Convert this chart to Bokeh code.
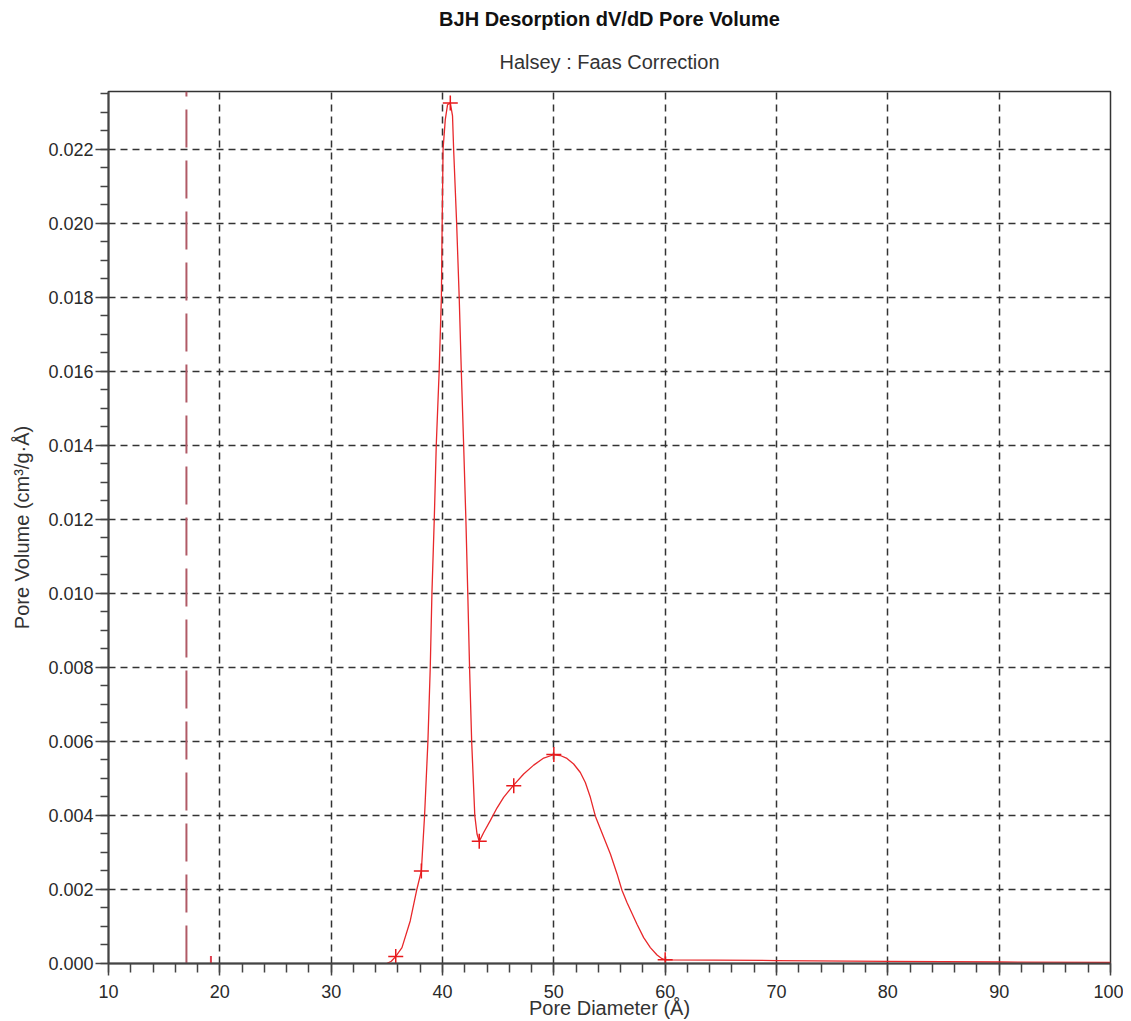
from bokeh.plotting import figure
from bokeh.models import Title, FixedTicker, PrintfTickFormatter, Range1d, ColumnDataSource
from bokeh.embed import file_html
from bokeh.resources import INLINE

# ---- data ----
title_main = "BJH Desorption dV/dD Pore Volume"
title_sub = "Halsey : Faas Correction"
x_label = "Pore Diameter (Å)"
y_label = "Pore Volume (cm³/g·Å)"

# measured points (plus markers)
marker_x = [35.8, 38.1, 40.7, 43.3, 46.4, 50.0, 60.0]
marker_y = [0.00019, 0.0025, 0.02325, 0.0033, 0.0048, 0.00565, 0.0001]

# smooth curve
curve_x = [35.0, 35.4, 35.8, 36.36, 37.1, 37.71, 38.1, 38.39, 38.69, 38.9, 39.05, 39.26,
           39.44, 39.7, 39.9, 39.97, 40.05, 40.25, 40.45, 40.7, 40.9, 41.0, 41.27, 41.5,
           41.69, 41.9, 42.1, 42.27, 42.43, 42.62, 42.9, 43.1, 43.3, 43.7, 44.29, 44.89,
           45.49, 46.39, 47.29, 48.19, 49.09, 49.98, 50.58, 51.18, 51.78, 52.38, 52.83,
           53.28, 53.73, 54.48, 55.08, 55.68, 56.12, 56.57, 57.47, 58.07, 58.67, 59.27,
           59.72, 60.0, 70.0, 80.0, 90.0, 100.0]
curve_y = [0.0, 0.00006, 0.00019, 0.00043, 0.00115, 0.00202, 0.0025, 0.0040, 0.0060,
           0.0080, 0.0100, 0.0120, 0.0140, 0.0160, 0.0180, 0.0200, 0.0220, 0.0228, 0.0232,
           0.02325, 0.0229, 0.0220, 0.0200, 0.0180, 0.0160, 0.0140, 0.0120, 0.0100,
           0.0080, 0.0060, 0.0040, 0.0035, 0.0033, 0.00354, 0.00386, 0.00420, 0.00449,
           0.00482, 0.00512, 0.00536, 0.00555, 0.00564, 0.00562, 0.00554, 0.00539,
           0.00516, 0.00489, 0.00449, 0.00398, 0.00341, 0.00296, 0.00242, 0.00198,
           0.00165, 0.00106, 0.00070, 0.00043, 0.00023, 0.00013, 0.0001, 0.00008,
           0.00006, 0.00004, 0.00003]

# vertical reference line and small tick
vline_x = 17.0
tick_mark_x = 19.2
tick_mark_h = 0.0002

x_ticks = [10, 20, 30, 40, 50, 60, 70, 80, 90, 100]
x_minor = [v for v in range(10, 101, 2)]
y_ticks = [0.000, 0.002, 0.004, 0.006, 0.008, 0.010, 0.012, 0.014, 0.016, 0.018, 0.020, 0.022]
y_minor = [i * 0.0005 for i in range(0, 48)]
x_min, x_max = 10, 100
y_min, y_max = 0.0, 0.02356

FONT = "Liberation Sans"

p = figure(frame_width=1002, frame_height=872,
           min_border_left=108, min_border_right=13, min_border_top=91, min_border_bottom=56,
           x_range=Range1d(x_min, x_max), y_range=Range1d(y_min, y_max),
           output_backend="svg", toolbar_location=None, title=None)
p.background_fill_color = "white"
p.border_fill_color = "white"
p.outline_line_color = "#333333"
p.outline_line_width = 1.5

# titles
sub = Title(text=title_sub, align="center", text_font=FONT, text_font_size="20px",
            text_font_style="normal", text_color="#333333", standoff=38)
p.add_layout(sub, "above")
main = Title(text=title_main, align="center", text_font=FONT, text_font_size="20px",
             text_font_style="bold", text_color="#111111", standoff=0)
p.add_layout(main, "above")

# axes
xt = FixedTicker(ticks=x_ticks, minor_ticks=x_minor)
yt = FixedTicker(ticks=y_ticks, minor_ticks=y_minor)
p.xaxis.ticker = xt
p.yaxis.ticker = yt
p.yaxis.formatter = PrintfTickFormatter(format="%.3f")

for ax in (p.xaxis, p.yaxis):
    ax.axis_line_color = "#444444"
    ax.axis_line_width = 2
    ax.major_tick_line_color = "#444444"
    ax.major_tick_line_width = 1.5
    ax.minor_tick_line_color = "#444444"
    ax.minor_tick_line_width = 1.5
    ax.major_tick_in = 0
    ax.minor_tick_in = 0
    ax.major_label_text_font = FONT
    ax.major_label_text_font_size = "18px"
    ax.major_label_text_color = "#2a2a2a"
    ax.axis_label_text_font = FONT
    ax.axis_label_text_font_size = "20px"
    ax.axis_label_text_font_style = "normal"
    ax.axis_label_text_color = "#333333"

p.xaxis.major_tick_out = 12
p.xaxis.minor_tick_out = 9
p.xaxis.major_label_standoff = 9
p.xaxis.axis_label = x_label
p.xaxis.axis_label_standoff = -4

p.yaxis.major_tick_out = 13
p.yaxis.minor_tick_out = 8
p.yaxis.major_label_standoff = 2
p.yaxis.axis_label = y_label
p.yaxis.axis_label_standoff = 12

# grid
p.xgrid.ticker = xt
p.ygrid.ticker = yt
for g in (p.xgrid, p.ygrid):
    g.grid_line_color = "#333333"
    g.grid_line_width = 1.5
    g.grid_line_dash = "7 5"

# reference dashed line
p.segment(x0=[vline_x], y0=[y_min], x1=[vline_x], y1=[y_max],
          line_color="#b05a66", line_width=2, line_dash="38 13")
p.segment(x0=[tick_mark_x], y0=[y_min], x1=[tick_mark_x], y1=[tick_mark_h],
          line_color="#e04050", line_width=2)

# curve and markers
src_c = ColumnDataSource(dict(x=curve_x, y=curve_y))
src_m = ColumnDataSource(dict(x=marker_x, y=marker_y))
p.line("x", "y", source=src_c, line_color="#e8282b", line_width=1.3)
p.scatter("x", "y", source=src_m, marker="cross", size=15, line_color="#e8181b", line_width=1.5)

open("out.html", "w").write(file_html(p, INLINE))
